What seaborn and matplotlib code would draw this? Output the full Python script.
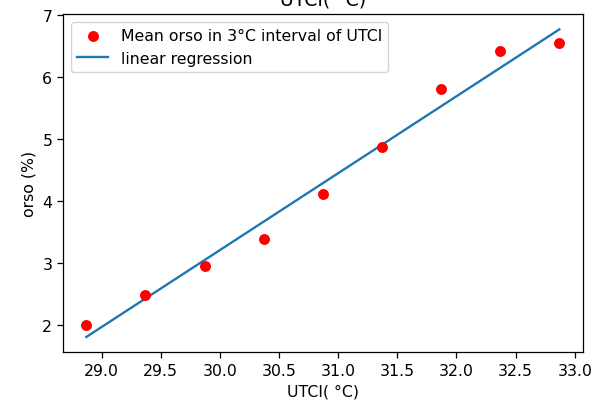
import numpy as np
import pandas as pd
import matplotlib
matplotlib.use("Agg")
import matplotlib.pyplot as plt
import seaborn as sns

# Mean orso (%) per 3 °C UTCI interval, plotted at the interval centres
utci = [28.87, 29.37, 29.87, 30.37, 30.87, 31.37, 31.87, 32.37, 32.87]
orso = [1.995, 2.48, 2.95, 3.385, 4.115, 4.87, 5.80, 6.42, 6.55]

df = pd.DataFrame({"utci": utci, "orso": orso})

# Least-squares linear fit
slope, intercept = np.polyfit(df["utci"], df["orso"], 1)
df["fit"] = slope * df["utci"] + intercept

plt.rcParams.update({
    "font.size": 11.3,
    "axes.linewidth": 0.9,
    "xtick.major.size": 4,
    "ytick.major.size": 4,
    "xtick.major.width": 0.9,
    "ytick.major.width": 0.9,
})

fig = plt.figure(figsize=(5.92, 4.02), dpi=100)
ax = fig.add_axes([0.1059, 0.1211, 0.8789, 0.8416])

sns.scatterplot(data=df, x="utci", y="orso", color="red", s=62, linewidth=0,
                label="Mean orso in 3°C interval of UTCI", ax=ax, zorder=3)
sns.lineplot(data=df, x="utci", y="fit", color="#1f77b4", linewidth=1.7,
             label="linear regression", ax=ax)

ax.set_xlabel("UTCI( °C)")
ax.set_ylabel("orso (%)")
ax.set_title("UTCI( °C)", pad=7)
ax.legend(loc="upper left")

fig.savefig("out.png", dpi=100)
